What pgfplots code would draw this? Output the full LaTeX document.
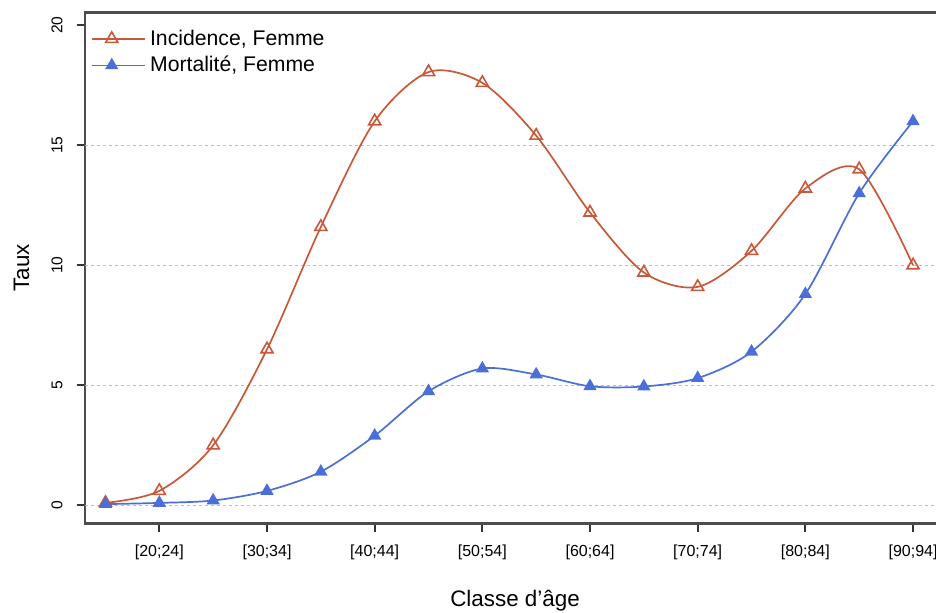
\documentclass[border=0pt]{standalone}
\usepackage{fontspec}
\setmainfont{Liberation Sans}
\usepackage{pgfplots}
\pgfplotsset{compat=1.18}

\definecolor{incid}{HTML}{C8583A}
\definecolor{mort}{HTML}{4A6FD8}
\definecolor{gridgray}{HTML}{BBBBBB}

\begin{document}
\begin{tikzpicture}
\useasboundingbox (0,0) rectangle (468pt,306pt);
\clip (0,0) rectangle (468pt,306pt);
\begin{axis}[
  at={(42.5pt,44.35pt)}, anchor=south west,
  scale only axis, width=430pt, height=255.5pt,
  xmin=-0.381, xmax=15.594,
  ymin=-0.75, ymax=20.54,
  /pgf/number format/assume math mode=true,
  axis line style={black!70, line width=1.2pt},
  tick align=outside,
  xtick pos=bottom, ytick pos=left,
  tick style={black!80, line width=0.9pt},
  major tick length=4.2pt,
  xtick={1,3,5,7,9,11,13,15},
  xticklabels={[20;24],[30;34],[40;44],[50;54],[60;64],[70;74],[80;84],[90;94]},
  ytick={0,5,10,15,20},
  xticklabel style={font=\fontsize{8}{9}\selectfont, yshift=-3pt},
  yticklabel style={font=\fontsize{7.8}{9}\selectfont, rotate=90, anchor=south, yshift=3.5pt},
  extra y ticks={0,5,10,15},
  extra y tick labels={},
  extra y tick style={grid=major, major tick length=0pt},
  grid style={gridgray, line width=0.6pt, dash pattern=on 1.5pt off 1.5pt},
  xlabel={Classe d'âge},
  ylabel={Taux},
  label style={font=\fontsize{11.2}{13}\selectfont},
  xlabel style={yshift=-8.5pt},
  ylabel style={yshift=0pt},
  legend style={at={(rel axis cs:0,1)}, anchor=north west, xshift=0pt, yshift=-4.5pt,
    draw=none, fill=none,
    font=\fontsize{10.6}{12}\selectfont, row sep=0pt,
    legend cell align=left},
  legend image code/.code={\draw[mark repeat=2,mark phase=2,#1]
    plot coordinates {(0pt,0pt) (9.75pt,0pt) (19.5pt,0pt)};
    \path (0pt,0pt) -- (26.5pt,0pt);},
]
\addplot[incid, line width=0.85pt, smooth, mark=triangle, mark size=3.5pt,
  mark options={line width=0.8pt}]
coordinates {
 (0,0.1)(1,0.6)(2,2.5)(3,6.5)(4,11.6)(5,16.0)(6,18.05)(7,17.6)
 (8,15.4)(9,12.2)(10,9.7)(11,9.1)(12,10.6)(13,13.2)(14,14.0)(15,10.0)
};
\addlegendentry{Incidence, Femme}
\addplot[mort, line width=0.85pt, smooth, mark=triangle*, mark size=3pt]
coordinates {
 (0,0.05)(1,0.1)(2,0.2)(3,0.6)(4,1.4)(5,2.9)(6,4.75)(7,5.7)
 (8,5.45)(9,4.96)(10,4.95)(11,5.3)(12,6.4)(13,8.8)(14,13.0)(15,16.0)
};
\addlegendentry{Mortalité, Femme}
\end{axis}
\end{tikzpicture}
\end{document}
